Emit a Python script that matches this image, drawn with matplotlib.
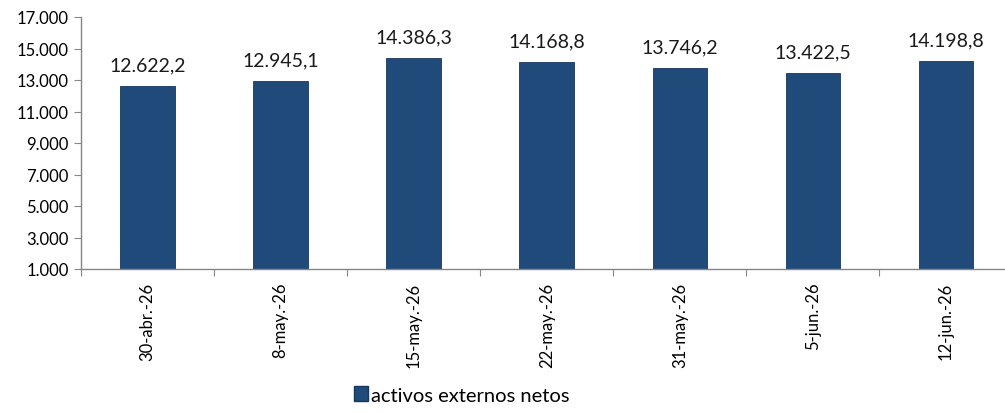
import matplotlib
matplotlib.use("Agg")
import matplotlib.pyplot as plt
from matplotlib.patches import Patch

categories = ["30-abr.-26", "8-may.-26", "15-may.-26", "22-may.-26", "31-may.-26", "5-jun.-26", "12-jun.-26"]
values = [12622.2, 12945.1, 14386.3, 14168.8, 13746.2, 13422.5, 14198.8]
yticks = [1000, 3000, 5000, 7000, 9000, 11000, 13000, 15000, 17000]
series_name = "activos externos netos"

plt.rcParams['font.family'] = ['Lato', 'DejaVu Sans']

def fmt_thousands(v, dec=0):
    s = f"{v:,.{dec}f}"
    return s.replace(",", "X").replace(".", ",").replace("X", ".")

W, H = 1005, 414
fig = plt.figure(figsize=(W/100, H/100), dpi=100)
left = 81 / W
right_px = 1012.5
bottom = (H - 270) / H
top = (H - 18) / H
ax = fig.add_axes([left, bottom, (right_px - 81) / W, top - bottom])

bar_color = "#1F4A7A"
x = list(range(len(categories)))
ax.bar(x, [v - 1000 for v in values], bottom=1000, width=0.41, color=bar_color,
       edgecolor="#17375E", linewidth=0.6, zorder=2)

for xi, v in zip(x, values):
    ax.annotate(fmt_thousands(v, 1), (xi, v), xytext=(0, 9), textcoords="offset points",
                ha="center", va="bottom", fontsize=14, color="#1a1a1a")

ax.set_xlim(-0.5, len(categories) - 0.5)
ax.set_ylim(1000, 17000)
ax.set_yticks(yticks)
ax.set_yticklabels([fmt_thousands(t) for t in yticks], fontsize=12)
ax.set_xticks([i - 0.5 for i in range(len(categories) + 1)])
ax.set_xticklabels([])
ax.set_xticks(x, minor=True)
ax.set_xticklabels(categories, minor=True, rotation=90, fontsize=12)
ax.tick_params(axis="x", which="minor", length=0, pad=9)
ax.tick_params(axis="x", which="major", length=5, color="#868686", direction="out")
ax.tick_params(axis="y", length=5, color="#868686", direction="out", pad=4)

for s in ["top", "right"]:
    ax.spines[s].set_visible(False)
for s in ["left", "bottom"]:
    ax.spines[s].set_color("#868686")
    ax.spines[s].set_linewidth(1.0)

handles = [Patch(facecolor=bar_color, edgecolor="#17375E", label=series_name)]
fig.legend(handles=handles, loc="center", bbox_to_anchor=(462 / W, 1 - 396 / H),
           frameon=False, fontsize=14.5, handlelength=0.7, handleheight=0.7,
           handletextpad=0.15)

fig.savefig("out.png", dpi=100)
